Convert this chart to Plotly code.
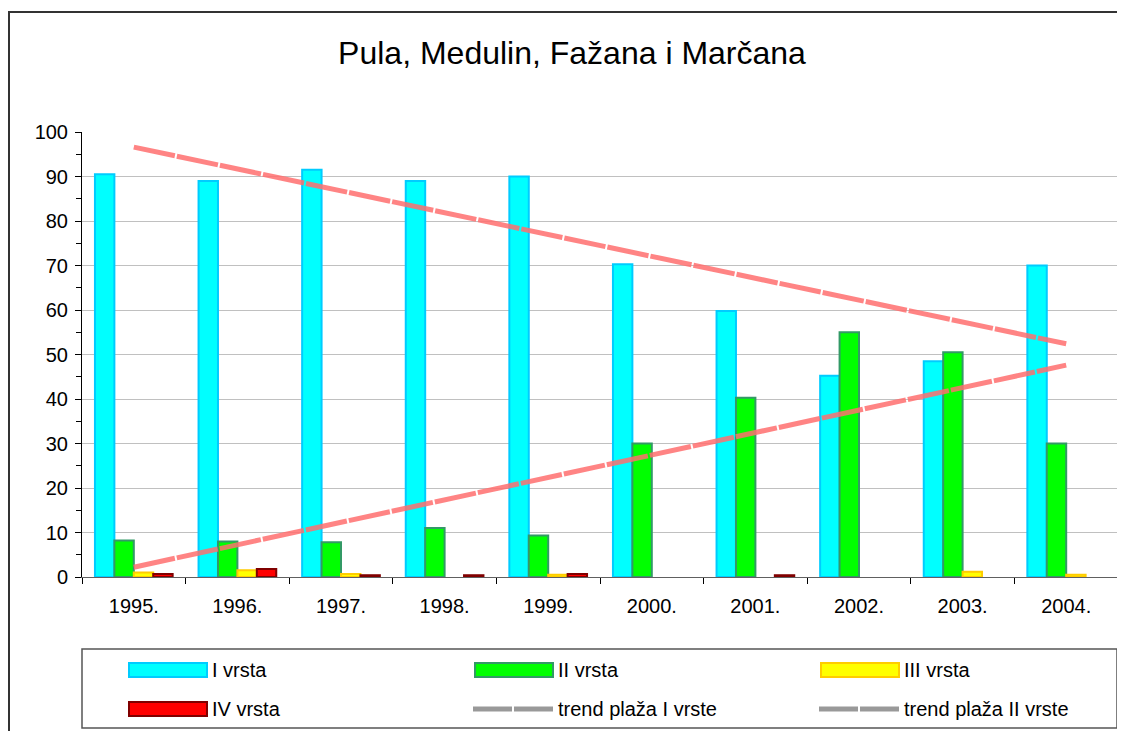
import plotly.graph_objects as go

years = ["1995.", "1996.", "1997.", "1998.", "1999.", "2000.", "2001.", "2002.", "2003.", "2004."]
vrsta_I = [90.5, 89.0, 91.5, 89.0, 90.0, 70.3, 59.8, 45.2, 48.5, 70.0]
vrsta_II = [8.2, 8.0, 7.8, 11.0, 9.3, 30.0, 40.3, 55.0, 50.5, 30.0]
vrsta_III = [1.0, 1.5, 0.7, 0.0, 0.5, 0.0, 0.0, 0.0, 1.2, 0.5]
vrsta_IV = [0.7, 1.8, 0.4, 0.4, 0.7, 0.0, 0.4, 0.0, 0.0, 0.0]
trend_x = ["1995.", "2004."]
trend_I = [96.6, 52.4]
trend_II = [2.2, 47.6]
legend_names = ["I vrsta", "II vrsta", "III vrsta", "IV vrsta",
                "trend plaža I vrste", "trend plaža II vrste"]

FONT = "Liberation Sans, Arial, sans-serif"
OFF = 8  # page body margin
W, H = 1125 - OFF, 731 - OFF
L, T = 82 - OFF, 132 - OFF
R = W - (1118 - OFF)
B = H - (577 - OFF)
PW, PH = W - L - R, H - T - B


def px(x):
    return (x - OFF - L) / PW


def py(y):
    return (H - B - (y - OFF)) / PH


fig = go.Figure()
series = [
    (legend_names[0], vrsta_I, "#00FFFF", "#00CCFF"),
    (legend_names[1], vrsta_II, "#00FF00", "#339966"),
    (legend_names[2], vrsta_III, "#FFFF00", "#FFCC00"),
    (legend_names[3], vrsta_IV, "#FF0000", "#800000"),
]
for name, vals, fill, edge in series:
    shown = [v if v else None for v in vals]  # zero bars are not drawn
    fig.add_trace(go.Bar(x=years, y=shown, name=name,
                         marker=dict(color=fill, line=dict(color=edge, width=2))))

for name, vals in [(legend_names[4], trend_I), (legend_names[5], trend_II)]:
    fig.add_trace(go.Scatter(x=trend_x, y=vals, mode="lines", name=name,
                             hoverinfo="skip",
                             line=dict(color="rgba(255,110,110,0.85)", width=5,
                                       dash="42px,2px")))

shapes = [dict(type="rect", xref="paper", yref="paper",
               x0=px(9), x1=px(1140), y0=py(745), y1=py(12),
               line=dict(color="#333333", width=2), layer="below"),
          dict(type="rect", xref="paper", yref="paper",
               x0=px(82), x1=px(1117), y0=py(728), y1=py(649),
               line=dict(color="#555555", width=1.5), layer="above")]
annotations = []

# manual legend (3 columns x 2 rows)
col_x = [129, 475, 821]
row_y = [670, 709]
for i, (name, _, fill, edge) in enumerate(series):
    cx = col_x[i % 3]
    cy = row_y[i // 3]
    shapes.append(dict(type="rect", xref="paper", yref="paper",
                       x0=px(cx), x1=px(cx + 78), y0=py(cy + 7), y1=py(cy - 7),
                       fillcolor=fill, line=dict(color=edge, width=2)))
for j in range(2):
    i = 4 + j
    cx = col_x[i % 3]
    cy = row_y[i // 3]
    shapes.append(dict(type="line", xref="paper", yref="paper",
                       x0=px(cx - 2), x1=px(cx + 80), y0=py(cy), y1=py(cy),
                       line=dict(color="#999999", width=5, dash="39px,2px")))
for i, name in enumerate(legend_names):
    cx = col_x[i % 3]
    cy = row_y[i // 3]
    annotations.append(dict(text=name, xref="paper", yref="paper",
                            x=px(cx + 81), y=py(cy), xanchor="left", yanchor="middle",
                            showarrow=False,
                            font=dict(family=FONT, size=20, color="black")))

fig.update_layout(
    width=W, height=H,
    paper_bgcolor="white", plot_bgcolor="white",
    margin=dict(l=L, r=R, t=T, b=B),
    barmode="group", bargap=0.25, bargroupgap=0,
    font=dict(family=FONT, size=20, color="black"),
    title=dict(text="Pula, Medulin, Fažana i Marčana", x=(572 - OFF) / W, xanchor="center",
               y=1 - (53 - OFF) / H, yanchor="middle",
               font=dict(family=FONT, size=32, color="black")),
    showlegend=False,
    shapes=shapes,
    annotations=annotations,
)
fig.update_yaxes(range=[0, 100], dtick=10, showgrid=True, gridcolor="#c0c0c0",
                 gridwidth=1, showline=True, linecolor="black", linewidth=1,
                 ticks="outside", ticklen=6, tickcolor="black",
                 minor=dict(dtick=5, ticks="outside", ticklen=5, tickcolor="black",
                            showgrid=False),
                 zeroline=False, tickfont=dict(size=20), ticklabelstandoff=3)
fig.update_xaxes(showgrid=False, showline=True, linecolor="#606060", linewidth=1,
                 ticks="outside", ticklen=6, tickcolor="black", tickson="boundaries",
                 tickfont=dict(size=20), ticklabelstandoff=11)

fig.write_html("out.html")
